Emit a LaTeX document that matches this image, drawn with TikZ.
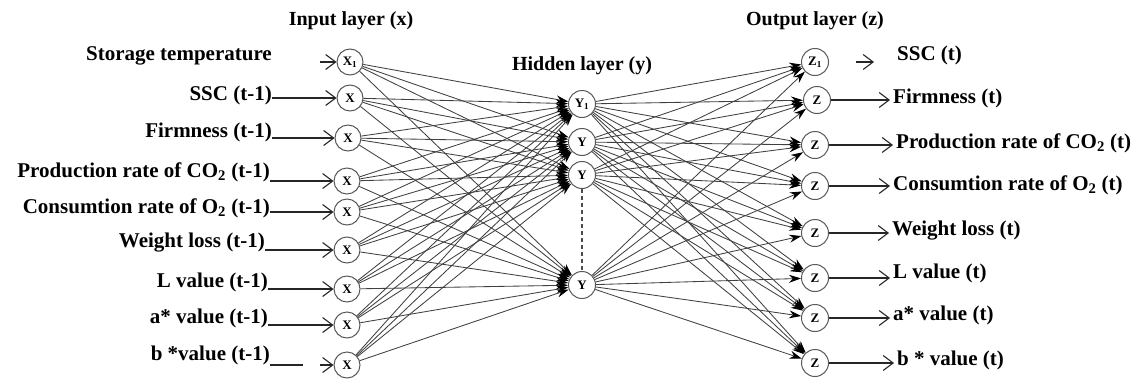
\documentclass[tikz,border=0pt]{standalone}
\usepackage{fontspec}
\setmainfont{Liberation Serif}
\usetikzlibrary{arrows.meta}
\begin{document}
\begin{tikzpicture}[x=1pt,y=-1pt,
  neuron/.style={circle,draw=black!65,line width=1pt,minimum size=26pt,inner sep=0pt,fill=white,font=\bfseries\fontsize{13}{13}\selectfont},
  hneuron/.style={neuron,minimum size=27pt},
  oneuron/.style={neuron,minimum size=27pt},
  lab/.style={font=\bfseries\fontsize{21}{21}\selectfont,inner sep=0pt},
  ttl/.style={font=\bfseries\fontsize{20}{20}\selectfont,inner sep=0pt,anchor=base},
  inarrow/.style={-{Straight Barb[length=10pt,width=15pt,line width=1.1pt]},line width=1.2pt,draw=black!85},
  plain/.style={line width=1.2pt,draw=black!85},
  wire/.style={-{Stealth[length=12pt,width=8pt,color=black]},draw=black!75,line width=0.85pt},
  dots/.style={line width=2.4pt,draw=black!70,dash pattern=on 4pt off 3pt},
]
\useasboundingbox (0,0) rectangle (1143,383);

% titles
\node[ttl] (tin) at (351,25) {Input layer (x)};
\node[ttl] (thid) at (582,70) {Hidden layer (y)};
\node[ttl] (tout) at (815,25) {Output layer (z)};

% input labels
\node[lab,anchor=base east] (i1) at (272,60) {Storage temperature};
\node[lab,anchor=base east] (i2) at (272,100) {SSC (t-1)};
\node[lab,anchor=base east] (i3) at (272,137) {Firmness (t-1)};
\node[lab,anchor=base east] (i4) at (270,177) {Production rate of CO\textsubscript{2} (t-1)};
\node[lab,anchor=base east] (i5) at (270,213) {Consumtion rate of O\textsubscript{2} (t-1)};
\node[lab,anchor=base east] (i6) at (265,247) {Weight loss (t-1)};
\node[lab,anchor=base east] (i7) at (268,287) {L value (t-1)};
\node[lab,anchor=base east] (i8) at (268,323) {a* value (t-1)};
\node[lab,anchor=base east] (i9) at (270,360) {b *value (t-1)};

% hidden neurons
\node[hneuron] (y1) at (582,104) {Y\textsubscript{1}};
\node[hneuron] (y2) at (582,142) {Y};
\node[hneuron] (y3) at (582,175) {Y};
\node[hneuron] (y4) at (582,285) {Y};

% input neurons
\node[neuron] (x1) at (350,62) {X\textsubscript{1}};
\node[neuron] (x2) at (350,98) {X};
\node[neuron] (x3) at (348,138) {X};
\node[neuron] (x4) at (347,181) {X};
\node[neuron] (x5) at (347,212) {X};
\node[neuron] (x6) at (347,250) {X};
\node[neuron] (x7) at (347,289) {X};
\node[neuron] (x8) at (347,325) {X};
\node[neuron] (x9) at (347,365) {X};

% output neurons
\node[oneuron] (z1) at (815,62) {Z\textsubscript{1}};
\node[oneuron] (z2) at (817,100) {Z};
\node[oneuron] (z3) at (815,145) {Z};
\node[oneuron] (z4) at (815,186) {Z};
\node[oneuron] (z5) at (815,233) {Z};
\node[oneuron] (z6) at (815,278) {Z};
\node[oneuron] (z7) at (815,318) {Z};
\node[oneuron] (z8) at (815,363) {Z};

% output labels
\node[lab,anchor=base west] (o1) at (897,60) {SSC (t)};
\node[lab,anchor=base west] (o2) at (893,103) {Firmness (t)};
\node[lab,anchor=base west] (o3) at (896,148) {Production rate of CO\textsubscript{2} (t)};
\node[lab,anchor=base west] (o4) at (893,190) {Consumtion rate of O\textsubscript{2} (t)};
\node[lab,anchor=base west] (o5) at (892,235) {Weight loss (t)};
\node[lab,anchor=base west] (o6) at (893,278) {L value (t)};
\node[lab,anchor=base west] (o7) at (893,320) {a* value (t)};
\node[lab,anchor=base west] (o8) at (897,365) {b * value (t)};

% network wires
\foreach \i in {1,...,9}
  \foreach \j in {1,...,4}
    \draw[wire] (x\i) -- (y\j);
\foreach \j in {1,...,4}
  \foreach \k in {1,...,8}
    \draw[wire] (y\j) -- (z\k);

\draw[dots] (y3) -- (y4);

% input arrows
\coordinate (s1) at (320,62);
\draw[inarrow] (s1) -- (x1);
\foreach \k in {2,...,8}
  \draw[inarrow] (x\k -| i\k.east) -- (x\k);
\coordinate (b9a) at (303,365);
\coordinate (b9b) at (320,365);
\draw[plain] (x9 -| i9.east) -- (b9a);
\draw[inarrow] (b9b) -- (x9);

% output arrows
\coordinate (e1a) at (856,62);
\coordinate (e1b) at (874,62);
\draw[inarrow] (e1a) -- (e1b);
\foreach \k in {2,...,8}
  \draw[inarrow,shorten >=3pt] (z\k) -- (z\k -| o\k.west);
\end{tikzpicture}
\end{document}
